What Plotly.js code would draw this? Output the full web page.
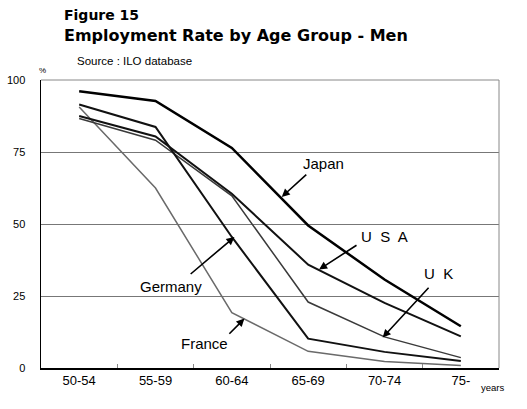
<!DOCTYPE html>
<html>
<head>
<meta charset="utf-8">
<script src="https://cdn.plot.ly/plotly-3.0.1.min.js"></script>
<style>html,body{margin:0;padding:0;background:#fff;}#chart{width:527px;height:409px;}</style>
</head>
<body>
<div id="chart"></div>
<script>
// ---- data ----
var ageGroups = ["50-54", "55-59", "60-64", "65-69", "70-74", "75-"];
var japan   = [96.1, 92.7, 76.4, 49.5, 30.7, 14.5];
var usa     = [87.5, 80.4, 60.5, 35.9, 22.6, 11.0];
var uk      = [86.6, 79.1, 59.8, 22.9, 10.8, 3.6];
var germany = [91.5, 83.7, 45.5, 10.2, 5.6, 2.4];
var france  = [90.6, 62.5, 19.2, 5.8, 2.3, 0.9];
var yTicks  = [0, 25, 50, 75, 100];

function tr(y, color, width) {
  return {x: ageGroups, y: y, type: 'scatter', mode: 'lines',
          line: {color: color, width: width}, hoverinfo: 'skip', showlegend: false};
}
var data = [
  tr(france, '#6a6a6a', 1.5),
  tr(uk, '#3a3a3a', 1.5),
  tr(germany, '#111', 2),
  tr(usa, '#111', 2),
  tr(japan, '#000', 2.5)
];

function label(t, x, y, size) {
  return {text: t, x: x, y: y, xref: 'x', yref: 'y', showarrow: false,
          xanchor: 'center', yanchor: 'middle',
          font: {family: 'Liberation Sans, Arial, sans-serif', size: size || 15, color: '#000'}};
}
function arrow(hx, hy, tx, ty) {
  return {text: '', x: hx, y: hy, ax: tx, ay: ty, xref: 'x', yref: 'y', axref: 'x', ayref: 'y',
          showarrow: true, arrowhead: 2, arrowsize: 1, arrowwidth: 1.6, arrowcolor: '#000',
          standoff: 0, startstandoff: 0, font: {size: 1}};
}
function ptext(t, x, y, size, opts) {
  var a = {text: t, x: x, y: y, xref: 'paper', yref: 'paper', showarrow: false,
           xanchor: 'left', yanchor: 'middle',
           font: {family: 'Liberation Sans, Arial, sans-serif', size: size, color: '#000'}};
  if (opts) for (var k in opts) a[k] = opts[k];
  return a;
}

var annotations = [
  ptext('<b>Figure 15</b>', 0.046, 1.2247, 14, {font: {family: 'DejaVu Sans, sans-serif', size: 14, color: '#000'}}),
  ptext('<b>Employment Rate by Age Group - Men</b>', 0.046, 1.1552, 16, {font: {family: 'DejaVu Sans, sans-serif', size: 16, color: '#000'}}),
  ptext('Source : ILO database', 0.075, 1.0649, 11.5),
  ptext('%', 0.0028, 1.0337, 8, {xanchor: 'center'}),
  ptext('years', 0.956, -0.067, 9.5),
  label('Japan', 3.201, 70.9),
  label('U\u00a0 S\u00a0 A', 4.0, 45.7),
  label('U\u00a0 K', 4.713, 32.9),
  label('Germany', 1.199, 28.4),
  label('France', 1.637, 8.6),
  arrow(2.654, 59.4, 2.995, 67.6),
  arrow(3.143, 34.2, 3.653, 42.95),
  arrow(3.976, 10.6, 4.596, 28.4),
  arrow(2.034, 45.5, 1.441, 32.2),
  arrow(2.165, 17.15, 1.948, 11.35)
];

var layout = {
  width: 527, height: 409,
  margin: {l: 41, r: 28, t: 80, b: 41, pad: 0},
  paper_bgcolor: '#fff', plot_bgcolor: '#fff',
  showlegend: false,
  xaxis: {
    type: 'category', range: [-0.5, 5.5], fixedrange: true,
    showgrid: false, zeroline: false,
    showline: true, linecolor: '#000', linewidth: 1.5,
    ticks: 'inside', tickson: 'boundaries', ticklen: 4, tickcolor: '#888', tickwidth: 1,
    tickfont: {family: 'Liberation Sans Narrow, Arial Narrow, Arial, sans-serif', size: 13, color: '#000'}
  },
  yaxis: {
    range: [0, 100], fixedrange: true,
    tickvals: yTicks, ticktext: yTicks.map(String),
    showgrid: true, gridcolor: '#777', gridwidth: 1, zeroline: false,
    showline: true, linecolor: '#000', linewidth: 1.5,
    ticks: '', ticklabelstandoff: 12,
    tickfont: {family: 'Liberation Sans Narrow, Arial Narrow, Arial, sans-serif', size: 11, color: '#000'}
  },
  shapes: [
    {type: 'line', xref: 'paper', yref: 'paper', x0: 0, x1: 1, y0: 1, y1: 1, line: {color: '#888', width: 1}},
    {type: 'line', xref: 'paper', yref: 'paper', x0: 1, x1: 1, y0: 0, y1: 1, line: {color: '#888', width: 1}}
  ],
  annotations: annotations
};

Plotly.newPlot('chart', data, layout, {staticPlot: true, displayModeBar: false});
</script>
</body>
</html>
